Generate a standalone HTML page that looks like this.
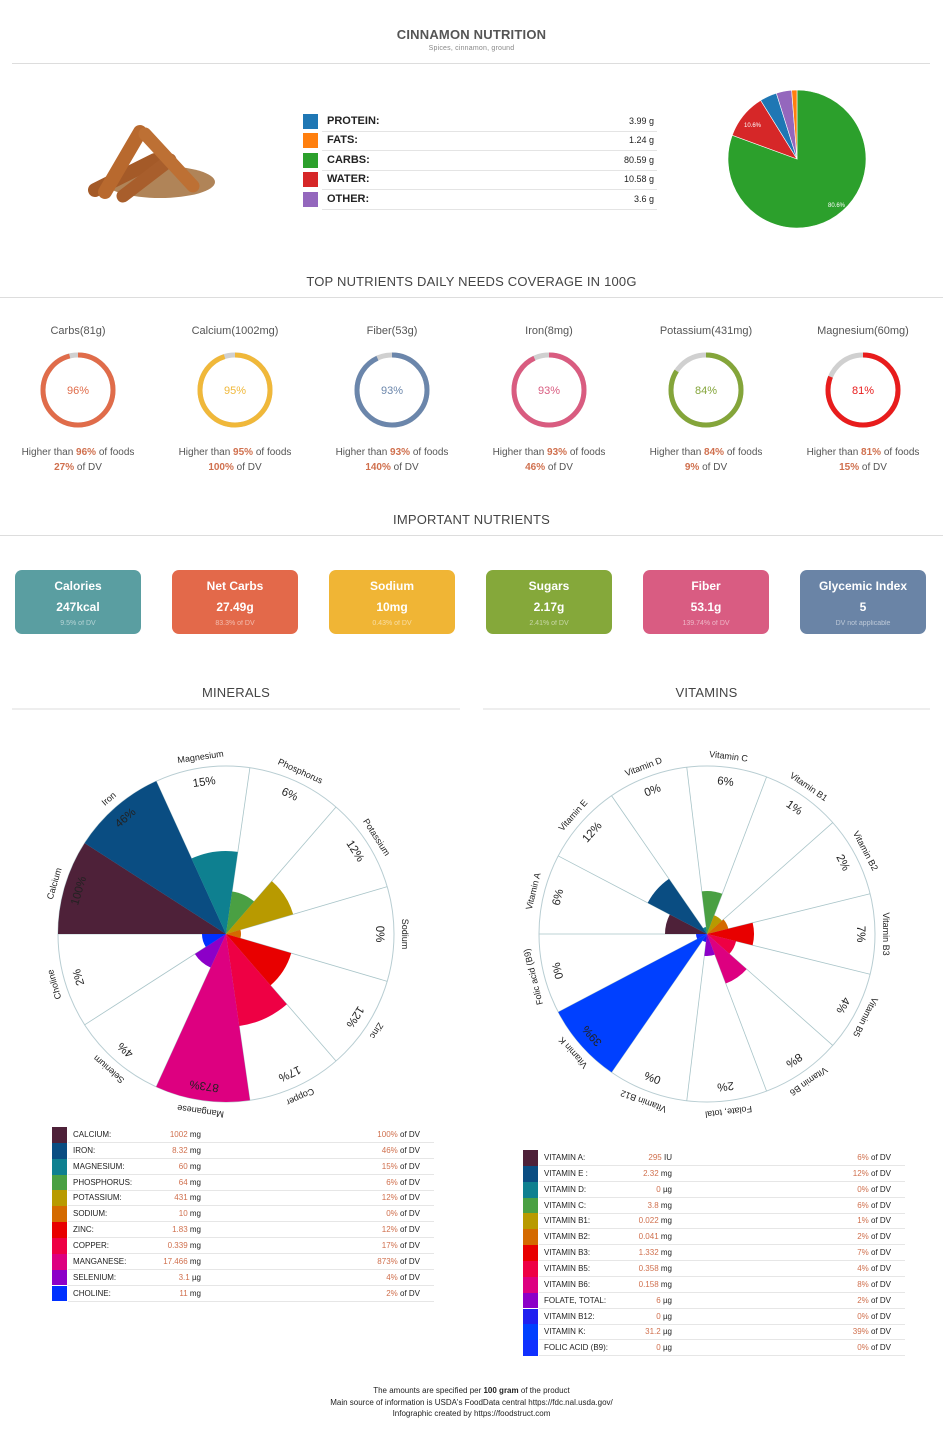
<!DOCTYPE html>
<html><head><meta charset="utf-8"><style>
*{margin:0;padding:0;box-sizing:border-box}
body{width:950px;height:1435px;background:#fff;font-family:"Liberation Sans",sans-serif;color:#333;position:relative;overflow:hidden}
.a{position:absolute}
.h{position:absolute;font-size:13px;color:#444;text-align:center;letter-spacing:0.2px}
.line{position:absolute;height:1px;background:#ddd}
.card{position:absolute;top:570px;width:126px;height:64px;border-radius:7px;color:#fff;text-align:center}
.card .t{font-size:12px;font-weight:bold;margin-top:9px}
.card .v{font-size:12px;font-weight:bold;margin-top:7px}
.card .d{font-size:7px;opacity:.55;margin-top:6px}
.ring{position:absolute;top:325px;width:150px;text-align:center;font-size:11px;color:#555}
.tr{position:absolute;font-size:8px;color:#222}
.or{color:#d0704e}
</style></head><body>
<div class="h" style="left:0;width:943px;top:27px;font-size:13px;font-weight:bold;color:#555">CINNAMON NUTRITION</div>
<div class="h" style="left:0;width:943px;top:45px;font-size:7px;color:#888">Spices, cinnamon, ground</div>
<div class="line" style="left:12px;width:918px;top:63px"></div>

<svg class="a" style="left:75px;top:120px" width="155" height="85">
<ellipse cx="85" cy="62" rx="55" ry="16" fill="#b08458"/>
<g stroke-linecap="round">
<line x1="20" y1="70" x2="80" y2="40" stroke="#a45a28" stroke-width="14"/>
<line x1="30" y1="72" x2="65" y2="12" stroke="#b8692e" stroke-width="14"/>
<line x1="48" y1="76" x2="95" y2="40" stroke="#a85e2c" stroke-width="13"/>
<line x1="70" y1="14" x2="118" y2="66" stroke="#bd7034" stroke-width="13"/>
</g></svg>

<div id="macro"></div>
<svg class="a" style="left:720px;top:82px" width="160" height="160" id="pie"></svg>

<div class="h" style="left:0;width:943px;top:274px">TOP NUTRIENTS DAILY NEEDS COVERAGE IN 100G</div>
<div class="line" style="left:0;width:943px;top:297px"></div>
<div id="rings"></div>

<div class="h" style="left:0;width:943px;top:512px">IMPORTANT NUTRIENTS</div>
<div class="line" style="left:0;width:943px;top:535px"></div>
<div class="card" style="left:15px;background:#5a9ea1"><div class="t">Calories</div><div class="v">247kcal</div><div class="d">9.5% of DV</div></div>
<div class="card" style="left:172px;background:#e3694a"><div class="t">Net Carbs</div><div class="v">27.49g</div><div class="d">83.3% of DV</div></div>
<div class="card" style="left:329px;background:#f0b535"><div class="t">Sodium</div><div class="v">10mg</div><div class="d">0.43% of DV</div></div>
<div class="card" style="left:486px;background:#85a83a"><div class="t">Sugars</div><div class="v">2.17g</div><div class="d">2.41% of DV</div></div>
<div class="card" style="left:643px;background:#d95c82"><div class="t">Fiber</div><div class="v">53.1g</div><div class="d">139.74% of DV</div></div>
<div class="card" style="left:800px;background:#6a84a6"><div class="t">Glycemic Index</div><div class="v">5</div><div class="d">DV not applicable</div></div>

<div class="h" style="left:12px;width:448px;top:685px">MINERALS</div>
<div class="line" style="left:12px;width:448px;top:708px;background:#eee;height:2px"></div>
<div class="h" style="left:483px;width:447px;top:685px">VITAMINS</div>
<div class="line" style="left:483px;width:447px;top:708px;background:#eee;height:2px"></div>

<svg class="a" style="left:0;top:720px" width="950" height="410" id="polar"></svg>
<div id="tables"></div>

<div class="a" style="left:0;width:943px;top:1385px;text-align:center;font-size:8px;line-height:11.5px;color:#222">The amounts are specified per <b>100 gram</b> of the product<br>Main source of information is USDA's FoodData central https://fdc.nal.usda.gov/<br>Infographic created by https://foodstruct.com</div>

<script>
var NS="http://www.w3.org/2000/svg";
function el(p,t,a,txt){var e=document.createElementNS(NS,t);for(var k in a)e.setAttribute(k,a[k]);if(txt!=null)e.textContent=txt;p.appendChild(e);return e;}
function pt(cx,cy,r,a){var q=(a-90)*Math.PI/180;return [cx+r*Math.cos(q),cy+r*Math.sin(q)];}
function sector(p,cx,cy,r,a0,a1,fill,extra){var s=pt(cx,cy,r,a0),e=pt(cx,cy,r,a1);var la=(a1-a0)>180?1:0;
var o={d:"M"+cx+","+cy+"L"+s[0]+","+s[1]+"A"+r+","+r+" 0 "+la+" 1 "+e[0]+","+e[1]+"Z",fill:fill};for(var k in extra)o[k]=extra[k];return el(p,"path",o);}
// macros
var mac=[["PROTEIN:","3.99 g","#1f77b4"],["FATS:","1.24 g","#ff7f0e"],["CARBS:","80.59 g","#2ca02c"],["WATER:","10.58 g","#d62728"],["OTHER:","3.6 g","#9467bd"]];
var h="";mac.forEach(function(m,i){var y=114+i*19.4;
h+='<div class="a" style="left:303px;top:'+y+'px;width:15px;height:15px;background:'+m[2]+'"></div>';
h+='<div class="a" style="left:327px;top:'+(y+1)+'px;font-size:11px;font-weight:bold;color:#222">'+m[0]+'</div>';
h+='<div class="a" style="left:560px;width:94px;text-align:right;top:'+(y+2)+'px;font-size:9px;color:#222">'+m[1]+'</div>';
h+='<div class="line" style="left:322px;width:335px;top:'+(y+17)+'px;background:#e4e4e4"></div>';});
document.getElementById("macro").innerHTML=h;
// pie
var pie=document.getElementById("pie"),a=0;
[[80.59,"#2ca02c"],[10.58,"#d62728"],[3.99,"#1f77b4"],[3.6,"#9467bd"],[1.24,"#ff7f0e"]].forEach(function(s){var d=s[0]*3.6;sector(pie,77,77,69,a,a+d,s[1],{stroke:"#fff","stroke-width":0.6});a+=d;});
el(pie,"text",{x:108,y:125,"font-size":6,fill:"#fff"},"80.6%");
el(pie,"text",{x:24,y:45,"font-size":6,fill:"#fff"},"10.6%");
// rings
var R=[["Carbs(81g)",96,"27%","#e06c4a"],["Calcium(1002mg)",95,"100%","#f0b83a"],["Fiber(53g)",93,"140%","#6b86ab"],["Iron(8mg)",93,"46%","#d95c80"],["Potassium(431mg)",84,"9%","#84a53a"],["Magnesium(60mg)",81,"15%","#e81c1c"]];
h="";R.forEach(function(r,i){var cx=78+i*157;var c=2*Math.PI*35;
h+='<div class="ring" style="left:'+(cx-75)+'px">'+r[0]+'</div>';
h+='<svg class="a" style="left:'+(cx-40)+'px;top:350px" width="80" height="80"><circle cx="40" cy="40" r="35" fill="none" stroke="#d0d0d0" stroke-width="5"/><circle cx="40" cy="40" r="35" fill="none" stroke="'+r[3]+'" stroke-width="5" stroke-dasharray="'+(c*r[1]/100)+' '+c+'" transform="rotate(-90 40 40)"/><text x="40" y="44" text-anchor="middle" font-size="11" fill="'+r[3]+'" font-family="Liberation Sans">'+r[1]+'%</text></svg>';
h+='<div class="ring" style="left:'+(cx-75)+'px;top:445px;font-size:10px;line-height:15px">Higher than <b class="or">'+r[1]+'%</b> of foods<br><b class="or">'+r[2]+'</b> of DV</div>';});
document.getElementById("rings").innerHTML=h;
// polar charts
var P=document.getElementById("polar");
function polar(cx,cy,data){var n=data.length,w=360/n,RR=168;
el(P,"circle",{cx:cx,cy:cy,r:RR,fill:"#fff",stroke:"#b8cdd2","stroke-width":1});
for(var i=0;i<n;i++){var a0=270+i*w;var e=pt(cx,cy,RR,a0);el(P,"line",{x1:cx,y1:cy,x2:e[0],y2:e[1],stroke:"#a8c4c8","stroke-width":0.8});}
data.forEach(function(d,i){var a0=270+i*w;if(d[2]>0)sector(P,cx,cy,d[2],a0,a0+w,d[3]);});
data.forEach(function(d,i){var m=270+(i+0.5)*w;var q=pt(cx,cy,RR+8,m);
el(P,"text",{x:q[0],y:q[1],"text-anchor":"middle","font-size":9,fill:"#222",transform:"rotate("+(m%360)+" "+q[0]+" "+q[1]+")"},d[0]);
var q2=pt(cx,cy,RR-18,m);el(P,"text",{x:q2[0],y:q2[1],"text-anchor":"middle","font-size":11.5,fill:"#222",transform:"rotate("+(m%360)+" "+q2[0]+" "+q2[1]+")"},d[1]);});}
var mins=[["Calcium","100%",168,"#4e2139"],["Iron","46%",168,"#0a4d82"],["Magnesium","15%",83,"#0e8090"],["Phosphorus","6%",43,"#4aa043"],["Potassium","12%",70,"#b89a00"],["Sodium","0%",15,"#d46a00"],["Zinc","12%",68,"#e80000"],["Copper","17%",93,"#ee0044"],["Manganese","873%",168,"#dd0080"],["Selenium","4%",37,"#8c00c8"],["Choline","2%",24,"#0030ff"]];
polar(226,214,mins);
var vits=[["Vitamin A","6%",42,"#4e2139"],["Vitamin E","12%",67,"#0a4d82"],["Vitamin D","0%",7,"#0e8090"],["Vitamin C","6%",43,"#4aa043"],["Vitamin B1","1%",20,"#b89a00"],["Vitamin B2","2%",22,"#d46a00"],["Vitamin B3","7%",47,"#e80000"],["Vitamin B5","4%",30,"#ee0044"],["Vitamin B6","8%",53,"#dd0080"],["Folate, total","2%",22,"#8c00c8"],["Vitamin B12","0%",8,"#2020f0"],["Vitamin K","39%",168,"#0040ff"],["Folic acid (B9)","0%",11,"#1030ff"]];
polar(707,214,vits);
// tables
function table(x,y,rows,amtR,dvR,lineW){var s="";rows.forEach(function(r,i){var yy=y+i*15.85;
s+='<div class="a" style="left:'+x+'px;top:'+yy+'px;width:15px;height:15.85px;background:'+r[3]+'"></div>';
s+='<div class="tr" style="left:'+(x+21)+'px;top:'+(yy+3)+'px">'+r[0]+'</div>';
s+='<div class="tr" style="left:'+(amtR-100)+'px;width:100px;text-align:right;top:'+(yy+3)+'px"><span class="or">'+r[1]+'</span> '+r[2]+'</div>';
s+='<div class="tr" style="left:'+(dvR-100)+'px;width:100px;text-align:right;top:'+(yy+3)+'px"><span class="or">'+r[4]+'</span> of DV</div>';
s+='<div class="line" style="left:'+(x+16)+'px;width:'+lineW+'px;top:'+(yy+15)+'px;background:#e6e6e6"></div>';});return s;}
var mt=[["CALCIUM:","1002","mg","#4e2139","100%"],["IRON:","8.32","mg","#0a4d82","46%"],["MAGNESIUM:","60","mg","#0e8090","15%"],["PHOSPHORUS:","64","mg","#4aa043","6%"],["POTASSIUM:","431","mg","#b89a00","12%"],["SODIUM:","10","mg","#d46a00","0%"],["ZINC:","1.83","mg","#e80000","12%"],["COPPER:","0.339","mg","#ee0044","17%"],["MANGANESE:","17.466","mg","#dd0080","873%"],["SELENIUM:","3.1","µg","#8c00c8","4%"],["CHOLINE:","11","mg","#0030ff","2%"]];
var vt=[["VITAMIN A:","295","IU","#4e2139","6%"],["VITAMIN E :","2.32","mg","#0a4d82","12%"],["VITAMIN D:","0","µg","#0e8090","0%"],["VITAMIN C:","3.8","mg","#4aa043","6%"],["VITAMIN B1:","0.022","mg","#b89a00","1%"],["VITAMIN B2:","0.041","mg","#d46a00","2%"],["VITAMIN B3:","1.332","mg","#e80000","7%"],["VITAMIN B5:","0.358","mg","#ee0044","4%"],["VITAMIN B6:","0.158","mg","#dd0080","8%"],["FOLATE, TOTAL:","6","µg","#8c00c8","2%"],["VITAMIN B12:","0","µg","#2020f0","0%"],["VITAMIN K:","31.2","µg","#0040ff","39%"],["FOLIC ACID (B9):","0","µg","#1030ff","0%"]];
document.getElementById("tables").innerHTML=table(52,1127,mt,201,420,366)+table(523,1150,vt,672,891,366);
</script>
</body></html>
